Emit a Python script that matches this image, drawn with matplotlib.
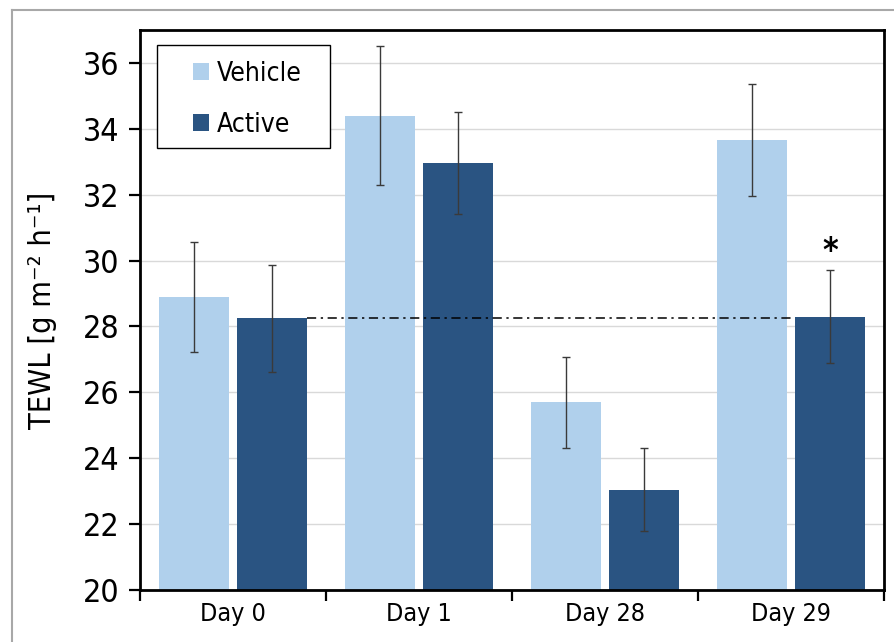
import numpy as np
import matplotlib
matplotlib.use("Agg")
import matplotlib.pyplot as plt
from matplotlib.lines import Line2D
from matplotlib.patches import Rectangle

days = ["Day 0", "Day 1", "Day 28", "Day 29"]
vehicle = [28.9, 34.4, 25.7, 33.65]
vehicle_err = [1.67, 2.1, 1.38, 1.7]
active = [28.25, 32.95, 23.05, 28.3]
active_err = [1.63, 1.55, 1.25, 1.42]
ref_level = 28.25

VEH_COLOR = "#B0D0EC"
ACT_COLOR = "#2A5482"

plt.rcParams["font.family"] = ["DejaVu Sans"]
plt.rcParams["font.stretch"] = "condensed"

fig = plt.figure(figsize=(8.95, 6.42), dpi=100)
ax = fig.add_axes([0.1564, 0.081, 0.8313, 0.8723])

x = np.arange(len(days))
w = 0.38
off = 0.21
err_kw = dict(ecolor="#3a3a3a", elinewidth=1.0, capsize=3, capthick=1.0)
ax.bar(x - off, vehicle, w, yerr=vehicle_err, color=VEH_COLOR, label="Vehicle",
       error_kw=err_kw, zorder=2)
ax.bar(x + off, active, w, yerr=active_err, color=ACT_COLOR, label="Active",
       error_kw=err_kw, zorder=2)

# reference line at the Day 0 active level
ax.plot([x[0] + off + w / 2, x[-1] + off - w / 2], [ref_level, ref_level],
        color="black", lw=1.1, linestyle=(0, (6, 3, 1.5, 3)), zorder=3)

# significance marker
ax.text(x[-1] + off, active[-1] + active_err[-1] + 0.05, "*", ha="center",
        va="bottom", fontsize=24, fontweight="bold")

ax.set_ylim(20, 37)
ax.set_xlim(-0.5, 3.5)
ax.set_yticks(np.arange(20, 37, 2))
ax.yaxis.grid(True, color="#D9D9D9", lw=1.0, zorder=0)
ax.set_axisbelow(True)

ax.set_xticks(np.arange(-0.5, 4, 1.0))
ax.set_xticklabels([])
ax.set_xticks(x, minor=True)
ax.set_xticklabels(days, minor=True, fontsize=18)
ax.tick_params(axis="x", which="minor", length=0, pad=9)
ax.tick_params(axis="x", which="major", length=8, width=1.6, direction="out")
ax.tick_params(axis="y", length=8, width=1.6, direction="out", labelsize=23, pad=7)

for s in ax.spines.values():
    s.set_linewidth(2.0)
    s.set_color("black")

ax.set_ylabel("TEWL [g m\u207b\u00b2 h\u207b\u00b9]", fontsize=22, labelpad=18)

# legend: frame drawn separately so the entries can sit inset like the original
ax.add_patch(Rectangle((0.023, 0.789), 0.2325, 0.184, transform=ax.transAxes,
                       facecolor="white", edgecolor="black", lw=1.0, zorder=4))
leg = ax.legend(loc="upper left", bbox_to_anchor=(0.071, 0.945), fontsize=19,
                frameon=False, handlelength=0.6, handleheight=0.6,
                handletextpad=0.3, labelspacing=0.95, borderpad=0,
                borderaxespad=0)
leg.set_zorder(5)

# outer frame of the original figure
fig.add_artist(Line2D([12 / 895, 12 / 895], [0, 1 - 10 / 642],
                      transform=fig.transFigure, color="#A8A8A8", lw=1.5))
fig.add_artist(Line2D([12 / 895, 1], [1 - 10 / 642, 1 - 10 / 642],
                      transform=fig.transFigure, color="#A8A8A8", lw=1.5))

fig.savefig("out.png", dpi=100)
